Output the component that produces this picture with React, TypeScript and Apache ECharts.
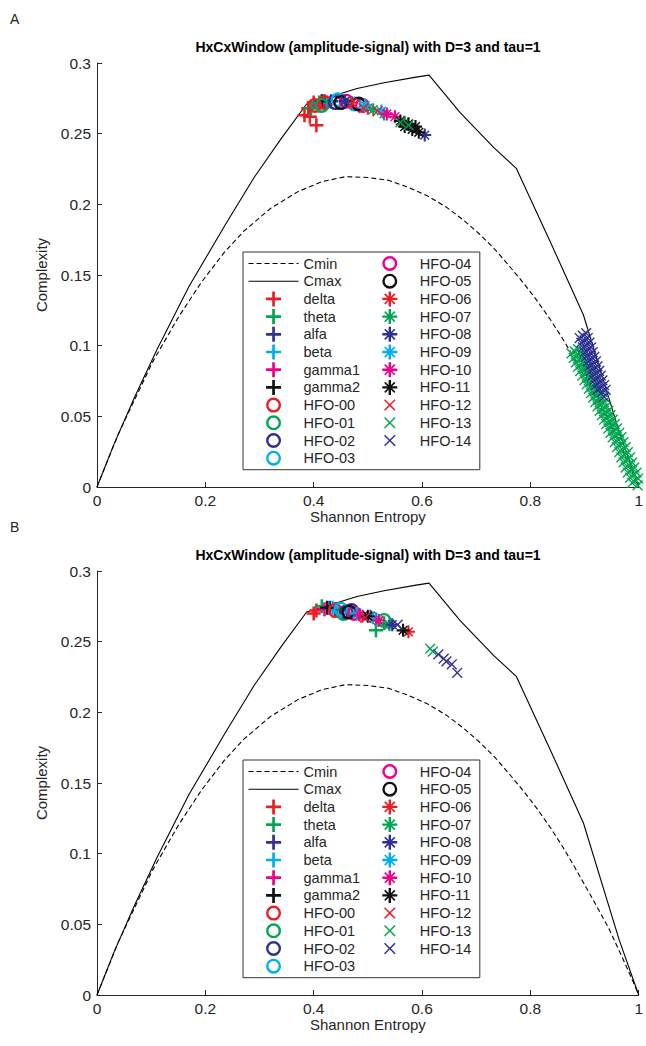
import React, { useEffect, useRef } from 'react';
import * as echarts from 'echarts';

const FONT = "'Liberation Sans', Arial, Helvetica, sans-serif";
const TEXT_COLOR = '#262626';
const TITLE = 'HxCxWindow (amplitude-signal) with D=3 and tau=1';
const PANEL_LABELS = ['A', 'B'];
const X_NAME = 'Shannon Entropy';
const Y_NAME = 'Complexity';

// Reference curves (Shannon entropy, complexity)
const cminCurve: number[][] = [
  [0, 0], [0.040, 0.038], [0.102, 0.088], [0.150, 0.120], [0.193, 0.145], [0.235, 0.166],
  [0.271, 0.181], [0.320, 0.197], [0.371, 0.209], [0.415, 0.216], [0.459, 0.2196], [0.500, 0.219],
  [0.538, 0.217], [0.575, 0.212], [0.610, 0.206], [0.645, 0.198], [0.676, 0.189], [0.706, 0.179],
  [0.735, 0.168], [0.762, 0.156], [0.788, 0.144], [0.812, 0.132], [0.836, 0.119], [0.858, 0.106],
  [0.878, 0.093], [0.912, 0.070], [0.945, 0.047], [0.968, 0.028], [0.988, 0.011], [1, 0],
];
const cmaxCurve: number[][] = [
  [0, 0], [0.031, 0.030], [0.070, 0.064], [0.111, 0.0975], [0.170, 0.142], [0.236, 0.185],
  [0.290, 0.219], [0.341, 0.247], [0.387, 0.271],
  [0.434, 0.2765], [0.480, 0.282], [0.530, 0.286], [0.589, 0.290], [0.613, 0.2914],
  [0.670, 0.265], [0.733, 0.240], [0.774, 0.2255],
  [0.835, 0.175], [0.898, 0.1217], [0.964, 0.039], [1, 0],
];

const seriesNames = [
  'delta', 'theta', 'alfa', 'beta', 'gamma1', 'gamma2',
  'HFO-00', 'HFO-01', 'HFO-02', 'HFO-03', 'HFO-04', 'HFO-05',
  'HFO-06', 'HFO-07', 'HFO-08', 'HFO-09', 'HFO-10', 'HFO-11',
  'HFO-12', 'HFO-13', 'HFO-14',
];
const RED = '#ED1C24', GREEN = '#00A651', NAVY = '#2E3192', CYAN = '#00AEEF', MAGENTA = '#EC008C', BLACK = '#111111';
const seriesColors = [
  RED, GREEN, NAVY, CYAN, MAGENTA, BLACK,
  RED, GREEN, NAVY, CYAN, MAGENTA, BLACK,
  RED, GREEN, NAVY, CYAN, MAGENTA, BLACK,
  RED, GREEN, NAVY,
];
const seriesMarkers = [
  'plus', 'plus', 'plus', 'plus', 'plus', 'plus',
  'ring', 'ring', 'ring', 'ring', 'ring', 'ring',
  'aster', 'aster', 'aster', 'aster', 'aster', 'aster',
  'cross', 'cross', 'cross',
];

// Panel A values
const A_delta = [[0.383, 0.263], [0.390, 0.268], [0.400, 0.272], [0.405, 0.256], [0.393, 0.262]];
const A_theta = [[0.395, 0.268], [0.410, 0.272]];
const A_alfa = [[0.420, 0.273], [0.432, 0.273]];
const A_beta = [[0.425, 0.272]];
const A_gamma1 = [[0.410, 0.270]];
const A_gamma2 = [[0.415, 0.273]];
const A_hfo00 = [[0.402, 0.270], [0.420, 0.272]];
const A_hfo01 = [[0.415, 0.270]];
const A_hfo02 = [[0.440, 0.272]];
const A_hfo03 = [[0.445, 0.274], [0.475, 0.271]];
const A_hfo04 = [[0.460, 0.273], [0.490, 0.270]];
const A_hfo05 = [[0.450, 0.272], [0.483, 0.271]];
const A_hfo06 = [[0.470, 0.272], [0.500, 0.268]];
const A_hfo07 = [[0.510, 0.267], [0.530, 0.264], [0.568, 0.258]];
const A_hfo08 = [[0.458, 0.273], [0.605, 0.249]];
const A_hfo09 = [[0.495, 0.270], [0.525, 0.266]];
const A_hfo10 = [[0.535, 0.264], [0.550, 0.262]];
const A_hfo11 = [[0.560, 0.259], [0.568, 0.255], [0.575, 0.257], [0.582, 0.253], [0.588, 0.255], [0.594, 0.251]];
const A_hfo12 = [[0.492, 0.268], [0.518, 0.266]];
const A_hfo13 = [
  [0.560, 0.258], [0.575, 0.256],
  // central row of the dense band
  [0.882, 0.0960], [0.886, 0.0929], [0.890, 0.0898], [0.894, 0.0866], [0.898, 0.0835], [0.902, 0.0804],
  [0.906, 0.0773], [0.910, 0.0742], [0.914, 0.0710], [0.918, 0.0679], [0.922, 0.0648], [0.926, 0.0617],
  [0.930, 0.0586], [0.934, 0.0554], [0.938, 0.0523], [0.942, 0.0492], [0.946, 0.0461], [0.950, 0.0430],
  [0.954, 0.0398], [0.958, 0.0367], [0.962, 0.0336], [0.966, 0.0300], [0.970, 0.0264], [0.974, 0.0228],
  [0.978, 0.0192], [0.982, 0.0156], [0.986, 0.0120], [0.990, 0.0084], [0.994, 0.0048], [0.998, 0.0012],
  // left edge of the band
  [0.876, 0.0945], [0.880, 0.0913], [0.884, 0.0882], [0.888, 0.0851], [0.892, 0.0820], [0.896, 0.0788],
  [0.900, 0.0757], [0.904, 0.0726], [0.908, 0.0695], [0.912, 0.0664], [0.916, 0.0632], [0.920, 0.0601],
  [0.924, 0.0570], [0.928, 0.0539], [0.932, 0.0508], [0.936, 0.0476], [0.940, 0.0445], [0.944, 0.0414],
  [0.948, 0.0383], [0.952, 0.0351], [0.956, 0.0318], [0.960, 0.0282], [0.964, 0.0246], [0.968, 0.0210],
  [0.972, 0.0174], [0.976, 0.0138], [0.980, 0.0102], [0.984, 0.0066], [0.988, 0.0030],
  // right edge of the band
  [0.888, 0.0976], [0.892, 0.0945], [0.896, 0.0913], [0.900, 0.0882], [0.904, 0.0851], [0.908, 0.0820],
  [0.912, 0.0788], [0.916, 0.0757], [0.920, 0.0726], [0.924, 0.0695], [0.928, 0.0664], [0.932, 0.0632],
  [0.936, 0.0601], [0.940, 0.0570], [0.944, 0.0539], [0.948, 0.0508], [0.952, 0.0476], [0.956, 0.0445],
  [0.960, 0.0414], [0.964, 0.0383], [0.968, 0.0352], [0.972, 0.0318], [0.976, 0.0282], [0.980, 0.0246],
  [0.984, 0.0210], [0.988, 0.0174], [0.992, 0.0138], [0.996, 0.0102], [0.999, 0.0060],
];
const A_hfo14 = [
  // central row
  [0.897, 0.1071], [0.900, 0.1037], [0.903, 0.1004], [0.906, 0.0971], [0.909, 0.0937], [0.912, 0.0904],
  [0.915, 0.0871], [0.918, 0.0838], [0.921, 0.0804], [0.924, 0.0771], [0.927, 0.0738], [0.930, 0.0704],
  [0.933, 0.0671], [0.936, 0.0638],
  // left edge
  [0.891, 0.1054], [0.894, 0.1021], [0.897, 0.0988], [0.900, 0.0954], [0.903, 0.0921], [0.906, 0.0888],
  [0.909, 0.0854], [0.912, 0.0821], [0.915, 0.0788], [0.918, 0.0754], [0.921, 0.0721], [0.924, 0.0688],
  // right edge
  [0.903, 0.1088], [0.906, 0.1054], [0.909, 0.1021], [0.912, 0.0988], [0.915, 0.0954], [0.918, 0.0921],
  [0.921, 0.0888], [0.924, 0.0854], [0.927, 0.0821], [0.930, 0.0788], [0.933, 0.0754], [0.936, 0.0721],
  [0.939, 0.0688],
];

// Panel B values
const B_delta = [[0.400, 0.270], [0.405, 0.272]];
const B_theta = [[0.415, 0.275], [0.515, 0.258], [0.530, 0.263]];
const B_alfa = [[0.430, 0.274], [0.440, 0.273]];
const B_beta = [[0.435, 0.274]];
const B_gamma1 = [[0.420, 0.273]];
const B_gamma2 = [[0.425, 0.274]];
const B_hfo00 = [[0.440, 0.272]];
const B_hfo01 = [[0.455, 0.270], [0.530, 0.265]];
const B_hfo02 = [[0.460, 0.271], [0.470, 0.272]];
const B_hfo03 = [[0.450, 0.273]];
const B_hfo04 = [[0.475, 0.270]];
const B_hfo05 = [[0.465, 0.271]];
const B_hfo06 = [[0.490, 0.268], [0.575, 0.257]];
const B_hfo07 = [[0.515, 0.266], [0.540, 0.262]];
const B_hfo08 = [[0.505, 0.268], [0.545, 0.262]];
const B_hfo09 = [[0.480, 0.270], [0.510, 0.267]];
const B_hfo10 = [[0.485, 0.269], [0.520, 0.265]];
const B_hfo11 = [[0.500, 0.268], [0.565, 0.258]];
const B_hfo12 = [[0.495, 0.267]];
const B_hfo13 = [[0.615, 0.245], [0.620, 0.243]];
const B_hfo14 = [[0.555, 0.262], [0.630, 0.241], [0.640, 0.238], [0.645, 0.236], [0.655, 0.234], [0.665, 0.228]];

const panelA = [A_delta, A_theta, A_alfa, A_beta, A_gamma1, A_gamma2, A_hfo00, A_hfo01, A_hfo02, A_hfo03,
  A_hfo04, A_hfo05, A_hfo06, A_hfo07, A_hfo08, A_hfo09, A_hfo10, A_hfo11, A_hfo12, A_hfo13, A_hfo14];
const panelB = [B_delta, B_theta, B_alfa, B_beta, B_gamma1, B_gamma2, B_hfo00, B_hfo01, B_hfo02, B_hfo03,
  B_hfo04, B_hfo05, B_hfo06, B_hfo07, B_hfo08, B_hfo09, B_hfo10, B_hfo11, B_hfo12, B_hfo13, B_hfo14];

const SYMBOLS: Record<string, string> = {
  plus: 'path://M8.2 0H11.8V8.2H20V11.8H11.8V20H8.2V11.8H0V8.2H8.2Z',
  ring: 'path://M10 0A10 10 0 1 0 10 20A10 10 0 1 0 10 0ZM10 3.2A6.8 6.8 0 1 1 10 16.8A6.8 6.8 0 1 1 10 3.2Z',
  aster: 'path://M8.4 0H11.6V8.4H20V11.6H11.6V20H8.4V11.6H0V8.4H8.4ZM2.5 4.1L4.1 2.5L10 8.4L15.9 2.5L17.5 4.1L11.6 10L17.5 15.9L15.9 17.5L10 11.6L4.1 17.5L2.5 15.9L8.4 10Z',
  cross: 'path://M-3 -3M23 23M0 1.8L1.8 0L10 8.2L18.2 0L20 1.8L11.8 10L20 18.2L18.2 20L10 11.8L1.8 20L0 18.2L8.2 10Z',
};
const SYMBOL_SIZES: Record<string, number> = { plus: 14, ring: 15, aster: 13, cross: 14 };

const GRID_TOPS = [63, 571];

export default function App() {
  const ref = useRef<HTMLDivElement>(null);
  useEffect(() => {
    if (!ref.current) return;
    const chart = echarts.init(ref.current, undefined, { renderer: 'svg' });
    const panels = [panelA, panelB];
    const series: any[] = [];
    panels.forEach((panel, p) => {
      series.push({
        name: 'Cmin', type: 'line', xAxisIndex: p, yAxisIndex: p, data: cminCurve, symbol: 'none', silent: true,
        lineStyle: { color: '#000', width: 1.1, type: [5, 3] }, itemStyle: { color: 'rgba(0,0,0,0)' }, z: 2,
      });
      series.push({
        name: 'Cmax', type: 'line', xAxisIndex: p, yAxisIndex: p, data: cmaxCurve, symbol: 'none', silent: true,
        lineStyle: { color: '#000', width: 1.1 }, itemStyle: { color: 'rgba(0,0,0,0)' }, z: 2,
      });
      panel.forEach((vals, i) => {
        const m = seriesMarkers[i];
        series.push({
          name: seriesNames[i], type: 'scatter', xAxisIndex: p, yAxisIndex: p, data: vals,
          symbol: SYMBOLS[m], symbolSize: SYMBOL_SIZES[m], silent: true, clip: false,
          itemStyle: { color: seriesColors[i], opacity: 1 }, z: 3,
        });
      });
    });
    const legendNames = ['Cmin', 'Cmax', ...seriesNames];
    const axisCommon = {
      axisLine: { show: true, onZero: false, lineStyle: { color: TEXT_COLOR, width: 1 } },
      axisTick: { show: true, inside: true, length: 5, lineStyle: { color: TEXT_COLOR } },
      splitLine: { show: false },
      nameTextStyle: { fontFamily: FONT, fontSize: 15, color: TEXT_COLOR },
    };
    chart.setOption({
      animation: false,
      backgroundColor: '#fff',
      textStyle: { fontFamily: FONT },
      grid: GRID_TOPS.map((t) => ({ left: 97, top: t, width: 542, height: 424 })),
      xAxis: GRID_TOPS.map((_, p) => ({
        ...axisCommon, type: 'value', gridIndex: p, min: 0, max: 1, interval: 0.2,
        name: X_NAME, nameLocation: 'middle', nameGap: 17,
        axisLabel: { fontFamily: FONT, fontSize: 15.5, color: TEXT_COLOR, margin: 5 },
      })),
      yAxis: GRID_TOPS.map((_, p) => ({
        ...axisCommon, type: 'value', gridIndex: p, min: 0, max: 0.3, interval: 0.05,
        name: Y_NAME, nameLocation: 'middle', nameGap: 48,
        axisLabel: { fontFamily: FONT, fontSize: 15.5, color: TEXT_COLOR, margin: 6 },
      })),
      legend: GRID_TOPS.map((t) => ({
        data: legendNames, orient: 'vertical', left: 243, top: t + 189, height: 212,
        itemWidth: 50, itemHeight: 15, itemGap: 2.7, padding: [4, 2, 4, 5],
        borderColor: '#333', borderWidth: 1, backgroundColor: '#fff', selectedMode: false,
        lineStyle: { width: 1.1 },
        textStyle: { fontFamily: FONT, fontSize: 14.5, color: TEXT_COLOR, width: 58, lineHeight: 15 },
      })),
      graphic: [
        ...GRID_TOPS.map((t, p) => ({
          type: 'text', left: 10, top: t - 51,
          style: { text: PANEL_LABELS[p], fontFamily: FONT, fontSize: 14, fill: TEXT_COLOR },
        })),
        ...GRID_TOPS.map((t) => ({
          type: 'text', x: 368, y: t - 16,
          style: { text: TITLE, fontFamily: FONT, fontSize: 14, fontWeight: 'bold', fill: '#000', align: 'center', verticalAlign: 'middle' },
        })),
      ],
      series,
    });
    return () => chart.dispose();
  }, []);
  return <div ref={ref} style={{ position: 'fixed', left: 0, top: 0, width: 646, height: 1046 }} />;
}
